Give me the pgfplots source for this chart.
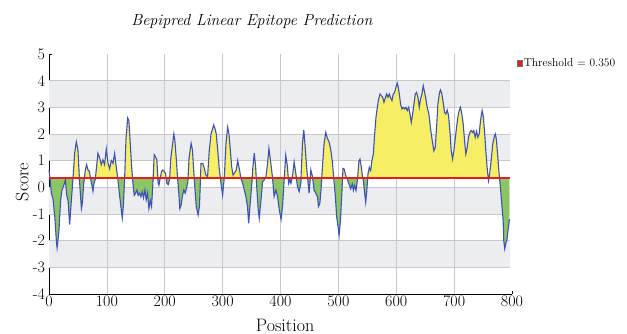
\documentclass[border=0pt]{standalone}
\usepackage{pgfplots}
\usepackage{pgfplotstable}
\pgfplotsset{compat=1.18}
\definecolor{yfill}{RGB}{246,238,100}
\definecolor{gfill}{RGB}{140,198,100}
\definecolor{bline}{RGB}{62,82,182}
\definecolor{rline}{RGB}{228,30,30}
\definecolor{band}{RGB}{236,237,240}
\definecolor{gridc}{RGB}{200,200,202}
\pgfplotstableread{
x y
0 0.65
2 0.3
4 -0.2
7 -0.45
10 -1.1
12.7 -2.0
14 -2.27
17 -1.7
20 -0.5
22.5 -0.1
26 0.1
28.3 0.28
30.6 -0.3
33 -0.5
35.7 -1.4
38.6 -0.5
42 0.5
44.4 1.3
47.2 1.7
50 1.4
53 0.15
56 -0.8
57.6 -0.6
60 0.15
62.8 0.65
65 0.85
67.4 0.65
69.7 0.6
72 0.3
74.3 0.05
76 -0.15
77.7 0.15
80 0.3
82.3 0.8
84.6 1.28
87.5 1.1
90.4 0.85
93.2 1.03
96 0.85
99 1.43
102 0.9
104.7 0.7
107.6 1.0
110.5 0.9
113.4 1.27
116 0.8
119 0.3
122 -0.3
124.9 -0.85
126.6 -1.15
128.5 -0.7
130.6 0.28
133 1.8
136 2.6
138 2.5
140.4 1.65
142.7 0.8
145 0.15
147.3 -0.3
149.6 -0.22
152 -0.1
154 -0.3
156.5 -0.22
158.8 -0.35
161 -0.16
163.4 -0.4
165.7 -0.1
168 -0.47
170.3 -0.22
172.6 -0.8
175 -0.5
177.2 -0.72
179.5 0.15
181.8 1.22
184 1.15
186.4 1.03
188.7 0.15
190 0.08
192 0.33
194.5 0.6
196.8 0.65
199 0.6
201.3 0.52
203.6 0.15
206 0.1
208.3 0.28
210.5 1.1
213 1.53
215.7 2.0
217.5 1.75
219.8 1.1
222 0.4
224.3 -0.22
226 -0.8
228.4 -0.66
230.7 -0.3
233 -0.1
235.3 -0.22
237.6 -0.04
239.9 0.2
242 1.1
245.6 1.65
247.9 1.4
249.6 0.78
252 0.0
254.4 -0.72
257.7 -1.04
260 -0.7
262.7 0.9
265.6 0.9
268.5 0.7
271 0.46
274 0.4
277 1.4
280 2.0
284.6 2.34
286.9 2.2
289 2.0
291.5 1.4
294.4 0.65
297.2 0.15
300 -0.29
303 0.4
305.8 1.65
308.7 2.25
311 2.0
313.3 1.4
315.6 0.78
318 0.46
320 0.52
323.7 0.65
326 1.0
328.8 0.7
331.7 0.33
334.6 0.15
337.5 -0.1
340.3 -0.35
343 -0.72
345 -1.35
347.2 -0.72
350 0.02
352.4 0.78
354.7 1.28
357 0.78
359.3 -0.1
361.6 -0.85
363.3 -1.16
366.2 -0.5
369 0.2
372 0.28
374.8 0.4
377.7 0.9
380 1.46
383.3 0.9
386 0.4
389 -0.35
392 -0.1
395 -0.35
398 -0.85
401 -1.2
403.5 -0.72
406.4 0.28
409 1.2
412 0.78
414 0.15
416 0.28
418 0.15
421 0.46
423.6 0.96
426.5 0.52
429.4 0.02
432.3 -0.16
435 0.15
438 1.65
440.3 2.15
442.6 1.53
445 0.78
447.2 0.28
449.5 -0.22
452.4 0.65
455.3 0.4
458 -0.1
461 -0.22
463.9 -0.35
465.6 -0.72
468 -0.6
470 -0.1
472.5 0.78
475.4 1.65
478.2 2.06
481 1.84
484 1.7
486.9 1.4
489.7 0.96
492 0.33
494.9 -0.35
497 -1.1
499 -1.4
501.3 -1.79
503.6 -1.23
506 -0.22
508 0.71
510 0.69
512.7 0.44
515.5 0.31
518.4 0.12
521.3 -0.06
524 0.12
525.9 -0.12
528.2 0.06
530.5 -0.12
532.8 0.25
535.7 1.0
537.4 1.06
539.7 0.75
541.4 0.44
543.2 0.25
545.5 -0.25
547.2 -0.56
548.9 -0.19
551.2 0.5
553.5 0.75
555.8 0.63
558 1.0
560.4 1.25
562.7 2.0
565 2.63
567.3 3.0
569.6 3.31
572 3.5
574.2 3.44
576.5 3.38
578.8 3.19
581.1 3.35
583.4 3.5
585.7 3.38
588 3.5
590.3 3.35
592.6 3.25
594.9 3.5
597.2 3.56
599.5 3.75
601.8 3.9
603.5 3.75
605.3 3.5
607.5 3.12
609.9 2.94
612.2 3.0
614.5 2.94
616.8 3.0
619 2.88
621.4 3.0
623.7 2.75
626 2.44
628.3 2.75
630.6 3.12
632.9 3.5
635.2 3.56
637.5 3.38
639.8 3.0
642 3.31
644.4 3.5
646.7 3.81
649 3.56
650.7 3.38
653.5 3.0
656.4 2.75
659.3 2.19
662.2 1.75
665 1.37
667.4 1.5
669.7 2.25
672 3.12
674.8 3.56
676.5 3.65
678.8 3.5
681.1 3.19
683.5 2.81
685.7 2.75
688 2.9
690.4 2.69
692.7 2.12
695 1.37
697.3 1.06
699.6 1.37
701.9 1.81
704.2 2.25
706.5 2.63
708.8 2.88
711 3.0
713.4 2.75
715.7 2.38
718 1.75
720.3 1.25
722.6 1.5
724.9 1.88
727.2 2.06
729.5 2.13
731.8 2.06
734 2.13
736.4 1.88
738.7 2.1
741 1.88
743.3 2.0
745.6 2.5
748.4 2.88
750.2 2.69
752.5 2.13
754.8 1.37
757 0.75
759.4 0.25
761 0.44
764 1.0
766.8 1.63
769.7 1.94
771.4 2.0
773.2 1.75
775.5 1.13
777.8 0.5
780 0.0
782.4 -0.63
784.7 -1.25
785.8 -2.0
787.5 -2.31
789.8 -2.06
791.5 -1.94
793.8 -1.5
795.6 -1.19
}\scores
\begin{document}
\begin{tikzpicture}
\begin{axis}[
  at={(0pt,0pt)}, anchor=south west,
  scale only axis, width=463pt, height=240pt,
  xmin=0, xmax=800, ymin=-4, ymax=5,
  xtick={0,100,...,800}, ytick={-4,-3,...,5},
  axis lines*=left,
  tick align=inside, major tick length=3pt,
  tick style={black, line width=0.5pt},
  axis line style={black, line width=0.8pt},
  /pgf/number format/assume math mode=true,
  ticklabel style={font=\fontsize{16}{18}\selectfont},
  xticklabel style={yshift=2pt},
  yticklabel style={xshift=-0.5pt},
  xlabel={Position}, ylabel={Score},
  xlabel style={font=\fontsize{18}{20}\selectfont, at={(axis description cs:0.51,-0.13)}, anchor=center},
  ylabel style={font=\fontsize{18}{20}\selectfont, at={(axis description cs:-0.058,0.467)}, anchor=center},
  legend style={at={(1.010,0.9625)}, anchor=west, draw=none, fill=none, inner sep=0pt,
    font=\fontsize{11.5}{13}\selectfont, nodes={inner sep=1pt}},
  legend cell align=left,
  clip=false,
]
% background bands and grid
\fill[band] (axis cs:0,3) rectangle (axis cs:796,4);
\fill[band] (axis cs:0,1) rectangle (axis cs:796,2);
\fill[band] (axis cs:0,-1) rectangle (axis cs:796,0);
\fill[band] (axis cs:0,-3) rectangle (axis cs:796,-2);
\pgfplotsinvokeforeach{-3,-2,-1,0,1,2,3,4}{
  \draw[gridc, line width=0.6pt] (axis cs:0,#1) -- (axis cs:796,#1);
}
\pgfplotsinvokeforeach{100,200,300,400,500,600,700}{
  \draw[gridc, line width=0.6pt] (axis cs:#1,-4) -- (axis cs:#1,5);
}
% yellow area above the threshold, green area below it
\addplot[fill=yfill, draw=none, forget plot] table[x=x, y expr={max(\thisrow{y},0.35)}] {\scores}
  -- (axis cs:795.6,0.35) -- (axis cs:0,0.35) -- cycle;
\addplot[fill=gfill, draw=none, forget plot] table[x=x, y expr={min(\thisrow{y},0.35)}] {\scores}
  -- (axis cs:795.6,0.35) -- (axis cs:0,0.35) -- cycle;
\addplot[bline, line width=1.1pt, forget plot] table[x=x,y=y] {\scores};
\addplot[rline, line width=1.2pt,
  legend image code/.code={\draw[fill=rline, draw=black!55, line width=0.4pt] (0pt,-2.8pt) rectangle (5.6pt,2.8pt);}]
  coordinates {(0,0.35) (796,0.35)};
\addlegendentry{Threshold = 0.350}
\node[font=\itshape\fontsize{16}{18}\selectfont] at (rel axis cs:0.438,1.135) {Bepipred Linear Epitope Prediction};
\end{axis}
\pgfresetboundingbox
\useasboundingbox (-49pt,-40pt) rectangle (578pt,294pt);
\end{tikzpicture}
\end{document}
